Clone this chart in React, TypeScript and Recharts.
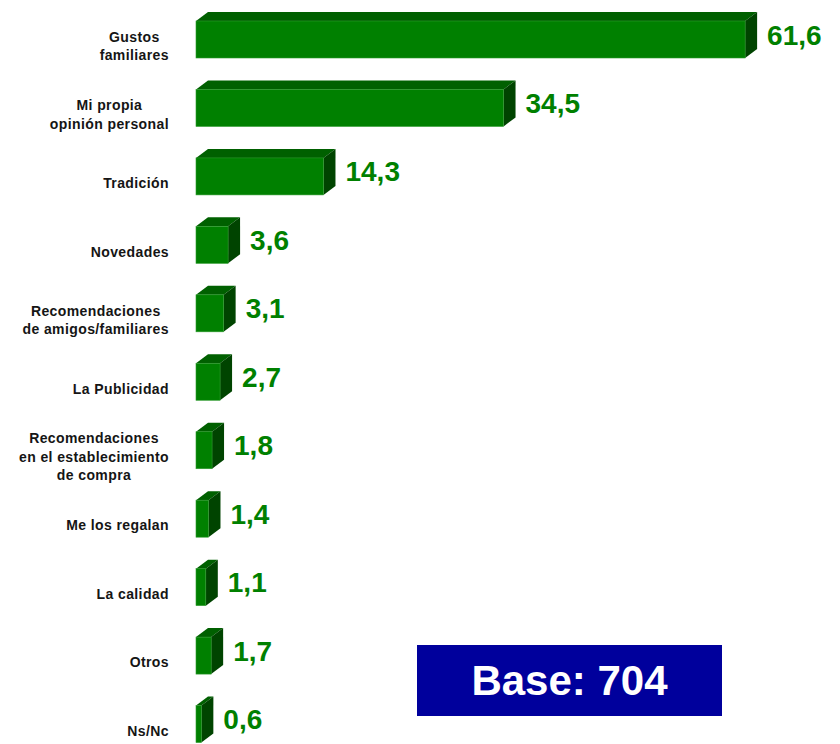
import React from 'react';
import { BarChart, Bar, XAxis, YAxis, LabelList } from 'recharts';

const categories = [
    'Gustos\nfamiliares',
    'Mi propia\nopinión personal',
    'Tradición',
    'Novedades',
    'Recomendaciones\nde amigos/familiares',
    'La Publicidad',
    'Recomendaciones\nen el establecimiento\nde compra',
    'Me los regalan',
    'La calidad',
    'Otros',
    'Ns/Nc',
];
const values = [61.6, 34.5, 14.3, 3.6, 3.1, 2.7, 1.8, 1.4, 1.1, 1.7, 0.6];
const baseLabel = 'Base: 704';

const data = categories.map((name, i) => ({ name, value: values[i] }));

const FONT = '"Liberation Sans", Arial, sans-serif';
const DX = 12; // profundidad 3D
const DY = 9;
const SPACING = 0.4;

let ctx: CanvasRenderingContext2D | null = null;
function textWidth(s: string) {
    if (!ctx) ctx = document.createElement('canvas').getContext('2d');
    if (!ctx) return s.length * 8;
    ctx.font = `bold 14px ${FONT}`;
    return ctx.measureText(s).width + s.length * SPACING;
}

function CategoryTick(props: any) {
    const { x, y, payload } = props;
    const lines: string[] = String(payload.value).split('\n');
    const right = 169;
    const maxW = Math.max(...lines.map(textWidth));
    const cx = lines.length > 1 ? right - maxW / 2 : right;
    const lh = 18.5;
    const base = y + 12 - ((lines.length - 1) * lh) / 2;
    return (
        <text
            x={cx}
            y={base}
            textAnchor={lines.length > 1 ? 'middle' : 'end'}
            fill="#151515"
            fontFamily={FONT}
            fontWeight="bold"
            fontSize={14}
            letterSpacing={SPACING}
        >
            {lines.map((l, i) => (
                <tspan key={i} x={cx} y={base + i * lh}>
                    {l}
                </tspan>
            ))}
        </text>
    );
}

function Box3D(props: any) {
    const { x, y, width, height } = props;
    const w = Math.max(width, 0);
    return (
        <g>
            <polygon
                points={`${x},${y} ${x + DX},${y - DY} ${x + w + DX},${y - DY} ${x + w},${y}`}
                fill="#006000"
            />
            <polygon
                points={`${x + w},${y} ${x + w + DX},${y - DY} ${x + w + DX},${y + height - DY} ${x + w},${y + height}`}
                fill="#004400"
            />
            <rect x={x} y={y} width={w} height={height} fill="#008000" stroke="#2e9a2e" strokeWidth={0.6} />
        </g>
    );
}

function ValueLabel(props: any) {
    const { x, y, width, height, value } = props;
    return (
        <text
            x={x + width + DX + 10}
            y={y + height / 2 - DY / 2}
            dominantBaseline="central"
            fill="#008000"
            fontFamily={FONT}
            fontWeight="bold"
            fontSize={28}
        >
            {Number(value).toFixed(1).replace('.', ',')}
        </text>
    );
}

export default function App() {
    return (
        <div
            style={{
                position: 'absolute',
                left: 0,
                top: 0,
                width: 840,
                height: 744,
                overflow: 'hidden',
                background: '#fff',
            }}
        >
            <BarChart
                width={840}
                height={760}
                data={data}
                layout="vertical"
                margin={{ top: 5, right: 20, bottom: 2, left: 0 }}
            >
                <XAxis type="number" domain={[0, 70]} hide />
                <YAxis
                    type="category"
                    dataKey="name"
                    width={196}
                    axisLine={false}
                    tickLine={false}
                    tick={<CategoryTick />}
                    interval={0}
                />
                <Bar dataKey="value" barSize={37} shape={<Box3D />} isAnimationActive={false}>
                    <LabelList dataKey="value" content={<ValueLabel />} />
                </Bar>
            </BarChart>
            <div
                style={{
                    position: 'absolute',
                    left: 417,
                    top: 645,
                    width: 305,
                    height: 71,
                    background: '#00009c',
                    color: '#fff',
                    fontFamily: FONT,
                    fontWeight: 'bold',
                    fontSize: 42,
                    display: 'flex',
                    alignItems: 'center',
                    justifyContent: 'center',
                }}
            >
                {baseLabel}
            </div>
        </div>
    );
}
